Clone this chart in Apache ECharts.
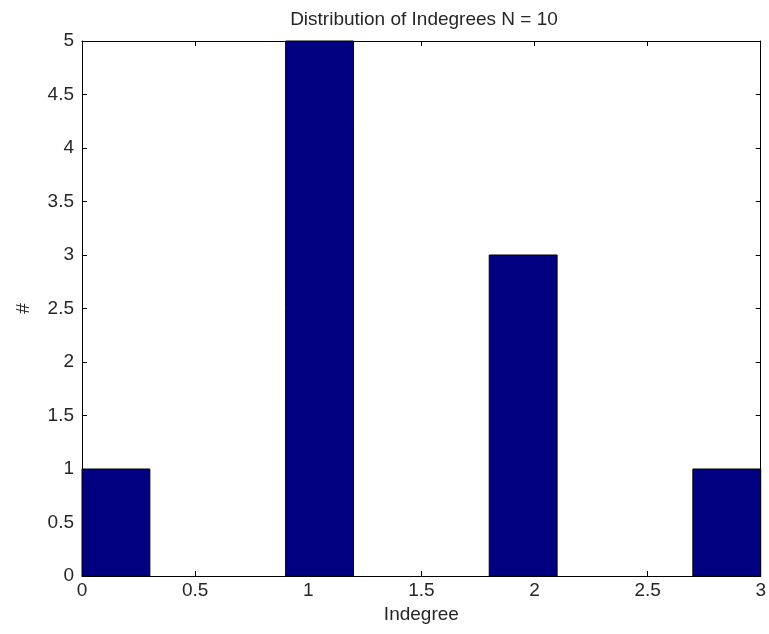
<!DOCTYPE html>
<html><head><meta charset="utf-8">
<script src="https://cdn.jsdelivr.net/npm/echarts@6/dist/echarts.min.js"></script>
<style>html,body{margin:0;padding:0;background:#fff}#c{width:769px;height:634px}</style>
</head><body><div id="c"></div>
<script>
const binCenters = [0.15, 0.45, 0.75, 1.05, 1.35, 1.65, 1.95, 2.25, 2.55, 2.85];
const counts = [1, 0, 0, 5, 0, 0, 3, 0, 0, 1];
const binWidth = 0.3;
const xTicks = [0, 0.5, 1, 1.5, 2, 2.5, 3];
const yTicks = [0, 0.5, 1, 1.5, 2, 2.5, 3, 3.5, 4, 4.5, 5];
const titleText = 'Distribution of Indegrees N = 10';
const xName = 'Indegree';
const yName = '#';

const chart = echarts.init(document.getElementById('c'), null, {renderer: 'canvas'});
const font = 'Liberation Sans, Arial, sans-serif';
const txt = '#262626';
function axisCommon() {
  return {
    axisLine: {show: true, onZero: false, lineStyle: {color: '#000', width: 1}},
    axisTick: {show: true, inside: true, length: 5, lineStyle: {color: '#000'}},
    splitLine: {show: false},
  };
}
chart.setOption({
  animation: false,
  title: {text: titleText, left: 419, top: 5, textAlign: 'center',
    textStyle: {fontFamily: font, fontSize: 19, fontWeight: 'normal', color: txt}},
  grid: {left: 82, right: 4, top: 41, bottom: 58},
  xAxis: [
    Object.assign({type: 'value', min: xTicks[0], max: xTicks[xTicks.length - 1], interval: 0.5, position: 'bottom',
      name: xName, nameLocation: 'middle', nameGap: 23,
      nameTextStyle: {fontFamily: font, fontSize: 19, color: txt},
      axisLabel: {fontFamily: font, fontSize: 19, color: txt, margin: 5,
        formatter: v => String(v)}}, axisCommon()),
    Object.assign({type: 'value', min: xTicks[0], max: xTicks[xTicks.length - 1], interval: 0.5, position: 'top',
      axisLabel: {show: false}}, axisCommon())
  ],
  yAxis: [
    Object.assign({type: 'value', min: yTicks[0], max: yTicks[yTicks.length - 1], interval: 0.5, position: 'left',
      name: yName, nameLocation: 'middle', nameGap: 49, nameRotate: 90,
      nameTextStyle: {fontFamily: font, fontSize: 19, color: txt},
      axisLabel: {fontFamily: font, fontSize: 19, color: txt, margin: 8,
        formatter: v => String(v)}}, axisCommon()),
    Object.assign({type: 'value', min: yTicks[0], max: yTicks[yTicks.length - 1], interval: 0.5, position: 'right',
      axisLabel: {show: false}}, axisCommon())
  ],
  series: [{
    type: 'custom',
    xAxisIndex: 0, yAxisIndex: 0,
    data: binCenters.map((c, i) => [c, counts[i]]),
    renderItem: function (params, api) {
      const c = api.value(0), h = api.value(1);
      if (h <= 0) return null;
      const p0 = api.coord([c - binWidth / 2, h]);
      const p1 = api.coord([c + binWidth / 2, 0]);
      return {type: 'rect', shape: {x: p0[0], y: p0[1], width: p1[0] - p0[0], height: p1[1] - p0[1]},
        style: {fill: '#000080', stroke: '#000', lineWidth: 1}};
    },
    z: 1
  }]
});
</script></body></html>
